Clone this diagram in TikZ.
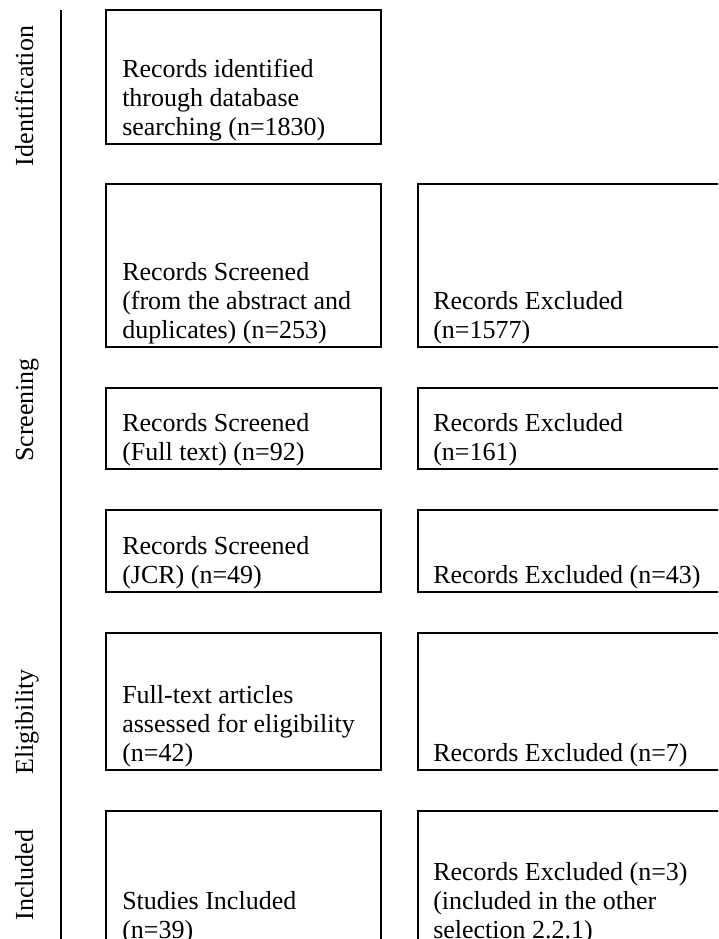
\documentclass[tikz,border=0pt]{standalone}
\usepackage{fontspec}
\setmainfont{Liberation Serif}
\usetikzlibrary{calc}
\newcommand\lastdp{\rule[-6pt]{0pt}{0pt}}
\begin{document}
\begin{tikzpicture}[x=0.75pt,y=-0.75pt,
  box/.style={draw,line width=1.6pt,inner sep=0pt,outer sep=0pt,minimum height=#1},
  lbox/.style={box=#1,minimum width=206.25pt},
  rbox/.style={box=#1,minimum width=245.25pt},
  txt/.style={font=\fontsize{19.5}{21.75}\selectfont,align=left,anchor=south west,inner sep=0pt},
  lab/.style={font=\fontsize{19.5}{21.75}\selectfont,rotate=90,anchor=base,inner sep=0pt}]
\useasboundingbox (0,0) rectangle (718,939);
\clip (0,0) rectangle (718,939);
% phase line
\coordinate (lt) at (61,10);
\coordinate (lb) at (61,960);
\draw[line width=1.6pt] (lt) -- (lb);
% phase labels
\node[lab] (l1) at (33,96) {Identification};
\node[lab] (l2) at (33,410) {Screening};
\node[lab] (l3) at (33,722) {Eligibility};
\node[lab] (l4) at (33,875) {Included};
% left column
\node[lbox=100.5pt]  (b1) at (243.5,77) {};
\node[lbox=122.25pt] (b2) at (243.5,265.5) {};
\node[lbox=60.75pt]  (b3) at (243.5,428.5) {};
\node[lbox=61.5pt]   (b4) at (243.5,551) {};
\node[lbox=102.75pt] (b5) at (243.5,701.5) {};
\node[lbox=102pt]    (b6) at (243.5,879) {};
% right column
\node[rbox=122.25pt] (r2) at (581.5,265.5) {};
\node[rbox=60.75pt]  (r3) at (581.5,428.5) {};
\node[rbox=61.5pt]   (r4) at (581.5,551) {};
\node[rbox=102.75pt] (r5) at (581.5,701.5) {};
\node[rbox=102pt]    (r6) at (581.5,879) {};
% texts
\node[txt] (t1) at ($(b1.south west)+(16,0)$) {Records identified\\through database\\searching (n=1830)\lastdp};
\node[txt] (t2) at ($(b2.south west)+(16,0)$) {Records Screened\\(from the abstract and\\duplicates) (n=253)\lastdp};
\node[txt] (t3) at ($(b3.south west)+(16,0)$) {Records Screened\\(Full text) (n=92)\lastdp};
\node[txt] (t4) at ($(b4.south west)+(16,0)$) {Records Screened\\(JCR) (n=49)\lastdp};
\node[txt] (t5) at ($(b5.south west)+(16,0)$) {Full-text articles\\assessed for eligibility\\(n=42)\lastdp};
\node[txt] (t6) at ($(b6.south west)+(16,0)$) {Studies Included\\(n=39)\lastdp};
\node[txt] (u2) at ($(r2.south west)+(15,0)$) {Records Excluded\\(n=1577)\lastdp};
\node[txt] (u3) at ($(r3.south west)+(15,0)$) {Records Excluded\\(n=161)\lastdp};
\node[txt] (u4) at ($(r4.south west)+(15,0)$) {Records Excluded (n=43)\lastdp};
\node[txt] (u5) at ($(r5.south west)+(15,0)$) {Records Excluded (n=7)\lastdp};
\node[txt] (u6) at ($(r6.south west)+(15,0)$) {Records Excluded (n=3)\\(included in the other\\selection 2.2.1)\lastdp};
\end{tikzpicture}
\end{document}
